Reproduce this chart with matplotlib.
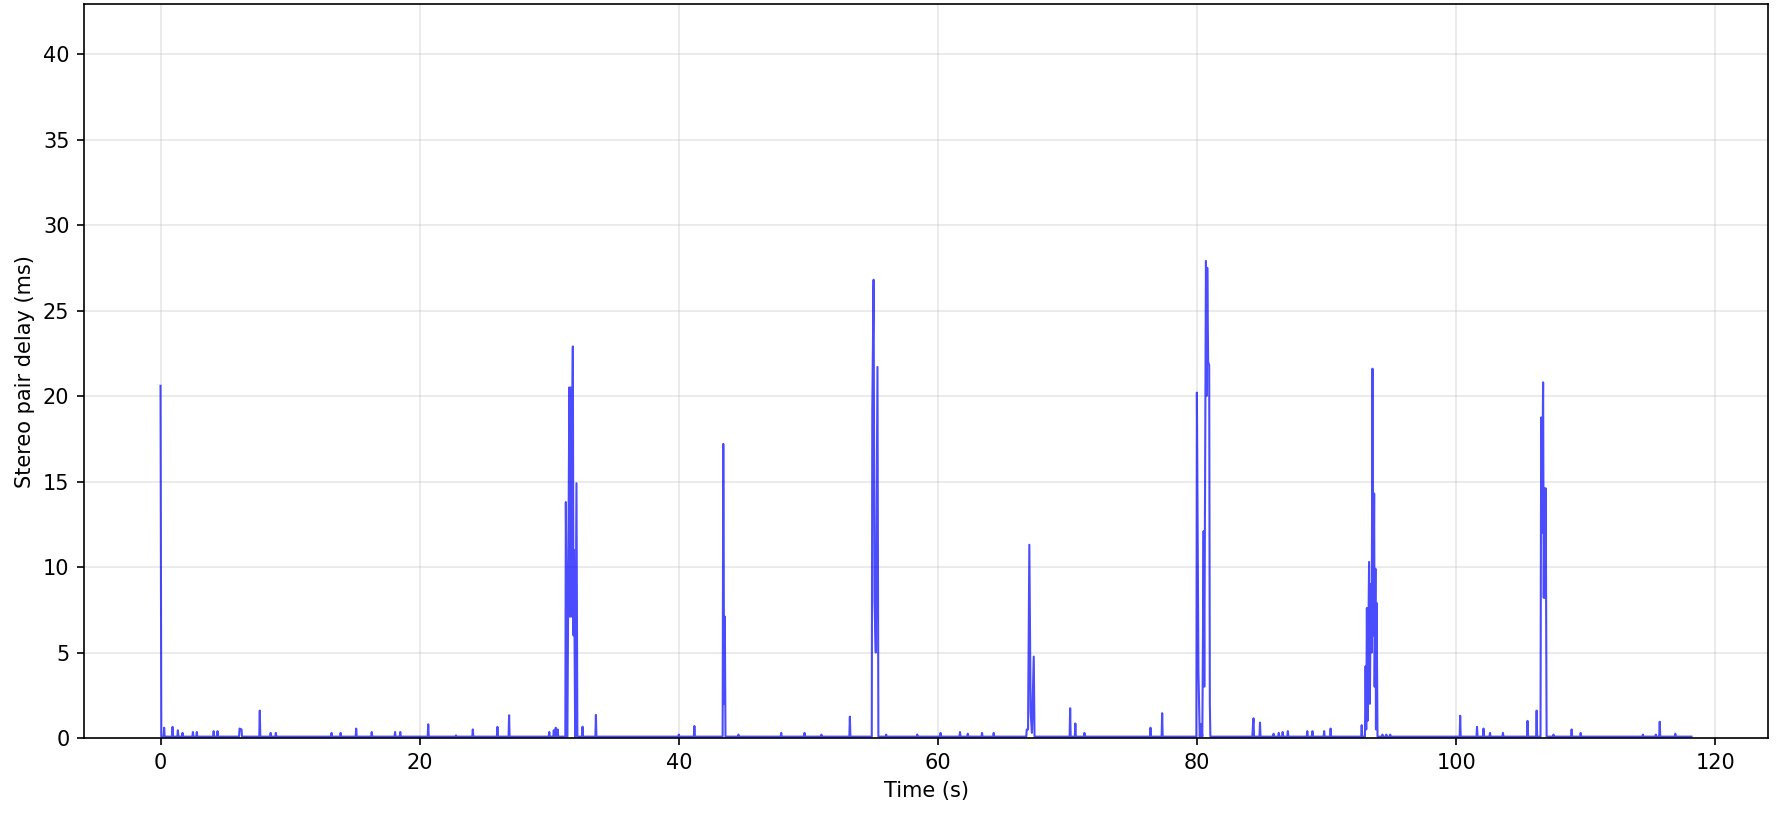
import numpy as np
import matplotlib.pyplot as plt

# stereo pair delay trace (time in s, delay in ms)
time_s = [
    0.00, 0.06, 0.24, 0.28, 0.32,
    0.89, 0.93, 0.97, 1.30, 1.34, 1.38, 1.66, 1.70, 1.74,
    2.46, 2.50, 2.54, 2.76, 2.80, 2.84,
    4.06, 4.10, 4.14, 4.36, 4.40, 4.44,
    6.06, 6.10, 6.25, 6.29, 7.62, 7.66, 7.70,
    8.46, 8.50, 8.54, 8.86, 8.90, 8.94,
    13.16, 13.20, 13.24, 13.86, 13.90, 13.94, 15.06, 15.10, 15.14,
    16.26, 16.30, 16.34, 18.06, 18.10, 18.14, 18.46, 18.50, 18.54,
    20.62, 20.66, 20.70, 22.76, 22.80, 22.84, 24.06, 24.10, 24.14,
    25.96, 26.00, 26.04, 26.86, 26.90, 26.94,
    29.96, 30.00, 30.04, 30.31, 30.35, 30.40, 30.46, 30.50, 30.55, 30.61, 30.65, 30.69,
    31.24, 31.28, 31.40, 31.55, 31.60, 31.65, 31.70, 31.75, 31.82,
    31.87, 31.90, 31.95, 32.00, 32.10, 32.17,
    32.53, 32.57, 32.61, 33.56, 33.60, 33.64,
    39.96, 40.00, 40.04, 41.16, 41.20, 41.24,
    43.38, 43.43, 43.50, 43.55, 43.60,
    44.56, 44.60, 44.64, 47.86, 47.90, 47.94, 49.66, 49.70, 49.74,
    50.96, 51.00, 51.04, 53.16, 53.20, 53.24,
    54.89, 54.93, 55.03, 55.10, 55.20, 55.33, 55.40,
    55.96, 56.00, 56.04, 58.36, 58.40, 58.44, 60.16, 60.20, 60.24,
    61.66, 61.70, 61.74, 62.26, 62.30, 62.34, 63.36, 63.40, 63.44,
    64.26, 64.30, 64.34,
    66.81, 66.85, 66.95, 67.05, 67.15, 67.25, 67.39, 67.45,
    70.16, 70.20, 70.24, 70.56, 70.60, 70.64, 71.26, 71.30, 71.34,
    76.36, 76.40, 76.44, 77.26, 77.30, 77.34,
    79.94, 79.98, 80.10, 80.20, 80.30, 80.40, 80.50, 80.55, 80.60,
    80.68, 80.73, 80.78, 80.85, 80.93, 80.98, 81.02,
    84.26, 84.30, 84.35, 84.39, 84.81, 84.85, 84.89,
    85.86, 85.90, 85.94, 86.26, 86.30, 86.34, 86.56, 86.60, 86.64,
    86.96, 87.00, 87.04, 88.46, 88.50, 88.54, 88.86, 88.90, 88.94,
    89.76, 89.80, 89.84, 90.26, 90.30, 90.34, 92.66, 92.70, 92.74,
    92.95, 93.00, 93.05, 93.10, 93.15, 93.27, 93.33, 93.40, 93.47,
    93.53, 93.60, 93.66, 93.70, 93.76, 93.80, 93.85, 93.92,
    94.26, 94.30, 94.34, 94.56, 94.60, 94.64, 94.86, 94.90, 94.94,
    100.26, 100.30, 100.34, 101.56, 101.60, 101.64, 102.06, 102.10, 102.14,
    102.56, 102.60, 102.64, 103.56, 103.60, 103.64,
    105.46, 105.50, 105.54, 106.16, 106.20, 106.24,
    106.50, 106.55, 106.60, 106.70, 106.75, 106.80, 106.85, 106.90, 106.97,
    107.46, 107.50, 107.54, 108.86, 108.90, 108.94, 109.56, 109.60, 109.64,
    114.36, 114.40, 114.44, 115.36, 115.40, 115.44, 115.66, 115.70, 115.74,
    116.86, 116.90, 116.94, 118.15,
]
delay_ms = [
    20.6, 0.08, 0.08, 0.6, 0.08,
    0.08, 0.65, 0.08, 0.08, 0.45, 0.08, 0.08, 0.3, 0.08,
    0.08, 0.35, 0.08, 0.08, 0.35, 0.08,
    0.08, 0.4, 0.08, 0.08, 0.4, 0.08,
    0.08, 0.55, 0.5, 0.08, 0.08, 1.6, 0.08,
    0.08, 0.3, 0.08, 0.08, 0.3, 0.08,
    0.08, 0.3, 0.08, 0.08, 0.3, 0.08, 0.08, 0.55, 0.08,
    0.08, 0.35, 0.08, 0.08, 0.35, 0.08, 0.08, 0.35, 0.08,
    0.08, 0.8, 0.08, 0.08, 0.15, 0.08, 0.08, 0.5, 0.08,
    0.08, 0.65, 0.08, 0.08, 1.33, 0.08,
    0.08, 0.35, 0.08, 0.08, 0.45, 0.08, 0.08, 0.6, 0.08, 0.08, 0.5, 0.08,
    0.08, 13.8, 0.08, 20.5, 7.1, 20.5, 7.1, 17.0, 22.9,
    6.0, 11.0, 6.0, 0.08, 14.9, 0.08,
    0.08, 0.66, 0.08, 0.08, 1.35, 0.08,
    0.08, 0.2, 0.08, 0.08, 0.7, 0.08,
    0.08, 17.2, 2.0, 7.1, 0.08,
    0.08, 0.2, 0.08, 0.08, 0.3, 0.08, 0.08, 0.3, 0.08,
    0.08, 0.2, 0.08, 0.08, 1.25, 0.08,
    0.08, 19.2, 26.8, 8.0, 5.0, 21.7, 0.08,
    0.08, 0.2, 0.08, 0.08, 0.2, 0.08, 0.08, 0.3, 0.08,
    0.08, 0.35, 0.08, 0.08, 0.25, 0.08, 0.08, 0.3, 0.08,
    0.08, 0.3, 0.08,
    0.08, 0.5, 0.5, 11.3, 1.5, 0.3, 4.76, 0.08,
    0.08, 1.74, 0.08, 0.08, 0.85, 0.08, 0.08, 0.3, 0.08,
    0.08, 0.6, 0.08, 0.08, 1.45, 0.08,
    0.08, 20.2, 3.9, 0.08, 0.8, 0.08, 12.1, 3.0, 12.0,
    27.9, 20.0, 27.5, 22.0, 21.8, 2.0, 0.08,
    0.08, 0.65, 1.15, 0.08, 0.08, 0.9, 0.08,
    0.08, 0.25, 0.08, 0.08, 0.3, 0.08, 0.08, 0.35, 0.08,
    0.08, 0.4, 0.08, 0.08, 0.4, 0.08, 0.08, 0.4, 0.08,
    0.08, 0.4, 0.08, 0.08, 0.55, 0.08, 0.08, 0.75, 0.08,
    0.08, 4.2, 0.5, 7.6, 1.0, 10.3, 2.0, 9.0, 5.0,
    21.6, 6.0, 14.3, 3.0, 9.9, 0.5, 7.9, 0.08,
    0.08, 0.2, 0.08, 0.08, 0.2, 0.08, 0.08, 0.2, 0.08,
    0.08, 1.3, 0.08, 0.08, 0.65, 0.08, 0.08, 0.55, 0.08,
    0.08, 0.3, 0.08, 0.08, 0.3, 0.08,
    0.08, 1.0, 0.08, 0.08, 1.6, 0.08,
    0.08, 18.75, 12.0, 20.8, 8.2, 14.6, 8.2, 14.6, 0.08,
    0.08, 0.2, 0.08, 0.08, 0.5, 0.08, 0.08, 0.3, 0.08,
    0.08, 0.2, 0.08, 0.08, 0.2, 0.08, 0.08, 0.95, 0.08,
    0.08, 0.25, 0.08, 0.08,
]

fig = plt.figure(figsize=(1783 / 150, 816 / 150), dpi=150)
ax = fig.add_subplot(111)
fig.subplots_adjust(left=0.0471, right=0.9916, top=0.9945, bottom=0.0956)

ax.plot(time_s, delay_ms, color="blue", alpha=0.7, linewidth=1)
ax.set_xlabel("Time (s)")
ax.set_ylabel("Stereo pair delay (ms)")
ax.set_ylim(0, 42.9)
ax.set_yticks(np.arange(0, 41, 5))
ax.grid(True, alpha=0.3)

fig.savefig("out.png", dpi=150)
